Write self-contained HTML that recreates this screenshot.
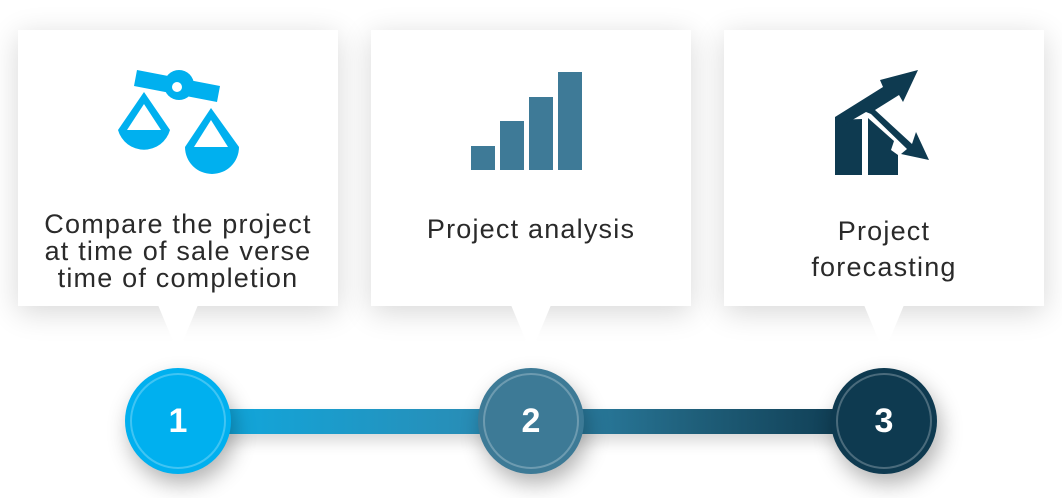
<!DOCTYPE html>
<html><head><meta charset="utf-8"><style>
body{margin:0;width:1062px;height:498px;background:#fff;position:relative;overflow:hidden;font-family:"Liberation Sans",sans-serif}
.box{position:absolute;top:30px;width:320px;height:276px;background:#fff;box-shadow:0 6px 28px rgba(0,0,0,0.16)}
.tri{position:absolute;top:305px;width:0;height:0;border-left:20px solid transparent;border-right:20px solid transparent;border-top:48px solid #fff}
.t{position:absolute;width:320px;text-align:center;font-size:27px;line-height:27px;color:#2a2a2a;letter-spacing:1.2px}
.c{position:absolute;top:368px;width:106px;height:106px;border-radius:50%;box-shadow:4px 10px 22px rgba(0,0,0,0.3);color:#fff;font-weight:bold;font-size:34px;line-height:106px;text-align:center}
.c::after{content:"";position:absolute;left:5px;top:5px;width:92px;height:92px;border-radius:50%;border:2px solid rgba(255,255,255,0.25)}
</style></head><body>
<div style="position:absolute;left:200px;top:409px;width:660px;height:25px;background:linear-gradient(90deg,#0fa9df,#2e87ad 50%,#1f5f7a 75%,#0e3a50);box-shadow:0 8px 14px rgba(0,0,0,0.15)"></div>
<div class="box" style="left:18px"></div>
<div class="box" style="left:371px"></div>
<div class="box" style="left:724px"></div>
<div class="tri" style="left:158px"></div>
<div class="tri" style="left:511px"></div>
<div class="tri" style="left:864px"></div>
<svg style="position:absolute;left:0;top:0" width="1062" height="498">
<g fill="#00b0ef">
<polygon points="137,70 220,86 217,102 134,86"/>
<circle cx="179" cy="85" r="15"/>
<circle cx="177" cy="87" r="5" fill="#fff"/>
<path d="M144,92 L118,130 A27,27 0 0 0 170,130 Z"/>
<polygon points="144,104 127,130 161,130" fill="#fff"/>
<path d="M211,108 L185,147 A27,27 0 0 0 239,147 Z"/>
<polygon points="211,120 194,147 228,147" fill="#fff"/>
</g>
<g fill="#3e7a97">
<rect x="471" y="146" width="24" height="24"/><rect x="500" y="121" width="24" height="49"/><rect x="529" y="97" width="24" height="73"/><rect x="558" y="72" width="24" height="98"/>
</g>
<g fill="#0e3a50">
<polygon points="835,120 835,175 862,175 862,119"/>
<polygon points="868,119 868,175 898,175 898,155 891,150 894,141 868,118"/>
<polygon points="835,117 883,87 880,80 918,70 903,102 899,95 875,110 912,144 916,132 929,160 901,154 907,149 871,114 866,112 835,130"/>
</g>
</svg>
<div class="t" style="left:18px;top:211px">Compare the project<br>at time of sale verse<br>time of completion</div>
<div class="t" style="left:371px;top:216px">Project analysis</div>
<div class="t" style="left:724px;top:213px;line-height:36px">Project<br>forecasting</div>
<div class="c" style="left:125px;background:#00b0ef">1</div>
<div class="c" style="left:478px;background:#3d7a96">2</div>
<div class="c" style="left:831px;background:#0e3a50">3</div>
</body></html>
